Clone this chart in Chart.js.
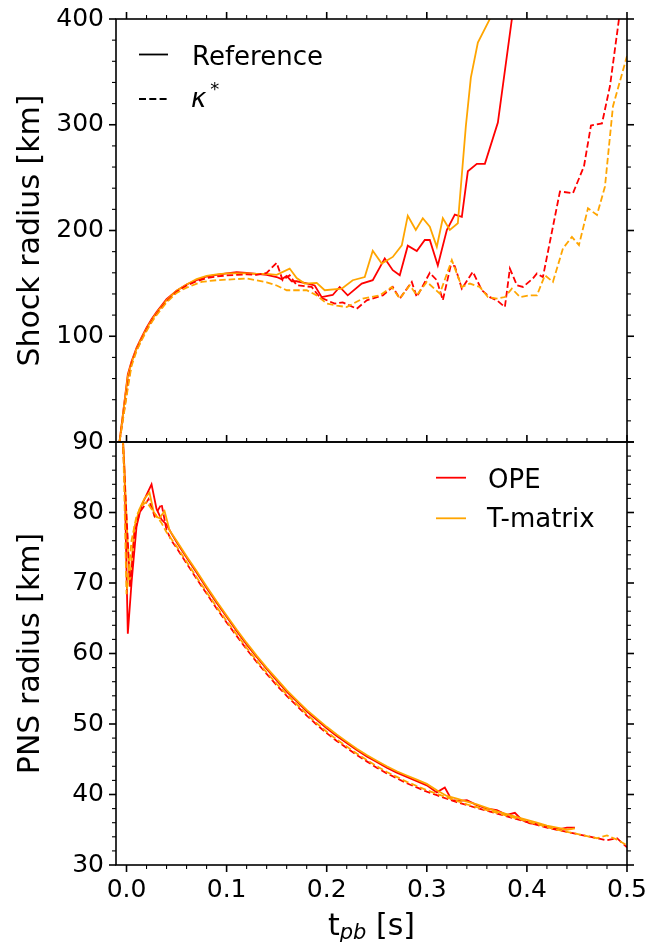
<!DOCTYPE html>
<html>
<head>
<meta charset="utf-8">
<script src="https://cdn.jsdelivr.net/npm/chart.js@4.4.0/dist/chart.umd.min.js"></script>
<style>
  body { margin: 0; background: #fff; }
  #wrap { position: relative; width: 661px; height: 942px; overflow: hidden; font-family: "DejaVu Sans", sans-serif; }
  canvas { position: absolute; left: 0; }
  #top { top: -8px; }
  #bot { top: 415px; }
  #xtitle { position: absolute; left: 116px; width: 511px; top: 910px; text-align: center;
            font-size: 30px; line-height: 30px; color: #000; }
  #xtitle sub { font-size: 21px; font-style: italic; vertical-align: -4px; line-height: 0; }
</style>
</head>
<body>
<div id="wrap">
  <canvas id="top" width="661" height="477"></canvas>
  <canvas id="bot" width="661" height="527"></canvas>
  <div id="xtitle">t<sub>pb</sub> [s]</div>
</div>
<script>
// --- оси ---
const xTicks = [0, 0.1, 0.2, 0.3, 0.4, 0.5];
const shockTicks = [100, 200, 300, 400];
const pnsTicks = [30, 40, 50, 60, 70, 80, 90];

// --- Shock radius, Reference OPE ---
const tShockRefOpe = [-0.007, 0.0013, 0.005, 0.01, 0.015, 0.02, 0.025, 0.03, 0.04, 0.05, 0.06, 0.07, 0.08, 0.09, 0.1, 0.11, 0.12, 0.13, 0.14, 0.15, 0.155, 0.16, 0.165, 0.17, 0.18, 0.188, 0.195, 0.206, 0.213, 0.221, 0.235, 0.246, 0.258, 0.266, 0.273, 0.281, 0.29, 0.298, 0.303, 0.311, 0.32, 0.328, 0.335, 0.341, 0.35, 0.358, 0.371, 0.385, 0.39];
const shockRefOpe = [0, 64, 76, 89, 99, 108, 116, 123, 135, 143, 149, 153, 156.5, 158, 159.5, 160.5, 160, 159, 158, 156, 154, 157, 152, 152, 150, 148, 137, 139, 146.6, 138.7, 149.8, 153, 173.6, 162.5, 157.7, 185.6, 180.5, 191, 191, 167, 200.5, 215, 213, 256, 263, 263, 302, 400, 440];

// --- Shock radius, Reference T-matrix ---
const tShockRefTm = [-0.007, 0.0013, 0.005, 0.01, 0.015, 0.02, 0.025, 0.03, 0.04, 0.05, 0.06, 0.07, 0.08, 0.09, 0.1, 0.11, 0.12, 0.13, 0.14, 0.15, 0.163, 0.17, 0.178, 0.19, 0.198, 0.215, 0.226, 0.238, 0.246, 0.255, 0.266, 0.275, 0.281, 0.289, 0.296, 0.303, 0.31, 0.316, 0.323, 0.331, 0.339, 0.344, 0.351, 0.363, 0.37];
const shockRefTm = [0, 62, 75, 88, 98, 107, 115, 122, 134, 143, 149, 154, 157, 158.5, 159.5, 159.5, 159.5, 159, 159, 158, 164, 155, 149.8, 150.4, 143.5, 145, 153, 156, 180.8, 168.8, 175, 186, 214, 200.5, 211.6, 203.6, 184.6, 211.6, 200.5, 206.8, 298.6, 344.6, 377.8, 400, 420];

// --- Shock radius, kappa* OPE ---
const tShockKapOpe = [-0.007, 0.002, 0.005, 0.01, 0.015, 0.02, 0.025, 0.03, 0.04, 0.05, 0.06, 0.07, 0.08, 0.09, 0.1, 0.11, 0.12, 0.13, 0.14, 0.15, 0.156, 0.163, 0.17, 0.185, 0.193, 0.208, 0.216, 0.23, 0.24, 0.256, 0.266, 0.273, 0.285, 0.29, 0.303, 0.31, 0.316, 0.324, 0.328, 0.335, 0.346, 0.355, 0.363, 0.37, 0.378, 0.383, 0.39, 0.396, 0.406, 0.41, 0.416, 0.433, 0.446, 0.457, 0.464, 0.475, 0.483, 0.492, 0.497];
const shockKapOpe = [0, 58, 74, 87, 97, 106, 114, 121, 133, 142, 148, 152, 155, 156.5, 157.5, 158, 158.5, 158, 160, 169.4, 153, 157.7, 148.2, 146.6, 137, 130.8, 132, 126, 134, 138.7, 146.6, 135.6, 151.4, 137.1, 160, 153, 134, 167.2, 166.3, 145, 160.9, 143.5, 137, 134, 127.6, 164, 148.2, 146.6, 154.6, 159.3, 156, 236.9, 235.3, 260.6, 299.3, 301.2, 336.6, 400, 440];

// --- Shock radius, kappa* T-matrix ---
const tShockKapTm = [-0.007, 0.002, 0.005, 0.01, 0.015, 0.02, 0.025, 0.03, 0.04, 0.05, 0.06, 0.075, 0.09, 0.1, 0.12, 0.14, 0.15, 0.16, 0.18, 0.19, 0.2, 0.21, 0.22, 0.236, 0.253, 0.265, 0.273, 0.283, 0.29, 0.3, 0.313, 0.325, 0.335, 0.343, 0.353, 0.361, 0.37, 0.378, 0.385, 0.393, 0.403, 0.41, 0.418, 0.426, 0.436, 0.445, 0.452, 0.461, 0.47, 0.478, 0.486, 0.5];
const shockKapTm = [0, 55, 72, 86, 96, 105, 113, 120, 132, 141, 146, 151.4, 153, 153.5, 154.6, 151, 148, 143.5, 143.5, 138.7, 131, 129, 127.6, 135.6, 138.7, 146.6, 135.6, 148.2, 138.7, 151.4, 140.3, 172, 146.6, 149.8, 146.6, 137.1, 135.6, 137.1, 145, 137.1, 138.7, 138.7, 157.7, 151.4, 183, 194, 186.2, 221, 214.7, 241.6, 317.6, 365];

// --- PNS radius, Reference OPE ---
const tPnsRefOpe = [-0.007, -0.002, 0.0013, 0.005, 0.01, 0.015, 0.02, 0.025, 0.03, 0.035, 0.04, 0.045, 0.05, 0.06, 0.07, 0.08, 0.09, 0.1, 0.11, 0.12, 0.13, 0.14, 0.15, 0.16, 0.17, 0.18, 0.19, 0.2, 0.21, 0.22, 0.23, 0.24, 0.25, 0.26, 0.27, 0.28, 0.29, 0.3, 0.31, 0.318, 0.325, 0.333, 0.34, 0.35, 0.36, 0.37, 0.38, 0.388, 0.395, 0.403, 0.41, 0.418, 0.425, 0.433, 0.44, 0.448];
const pnsRefOpe = [100, 86, 62.8, 70, 78, 81, 82.5, 84, 80.5, 79, 78.3, 77, 75.8, 73.6, 71.5, 69.3, 67.2, 65.2, 63.2, 61.3, 59.5, 57.8, 56.2, 54.6, 53.2, 51.8, 50.6, 49.4, 48.3, 47.3, 46.3, 45.4, 44.6, 43.8, 43.1, 42.5, 41.9, 41.3, 40.3, 41.0, 39.2, 39.1, 39.2, 38.5, 38.0, 37.8, 37.1, 37.4, 36.4, 35.9, 35.8, 35.6, 35.2, 35.1, 35.3, 35.3];

// --- PNS radius, Reference T-matrix ---
const tPnsRefTm = [-0.007, -0.002, 0.003, 0.008, 0.013, 0.018, 0.023, 0.028, 0.033, 0.038, 0.043, 0.05, 0.06, 0.07, 0.08, 0.09, 0.1, 0.11, 0.12, 0.13, 0.14, 0.15, 0.16, 0.17, 0.18, 0.19, 0.2, 0.21, 0.22, 0.23, 0.24, 0.25, 0.26, 0.27, 0.28, 0.29, 0.3, 0.31, 0.32, 0.33, 0.34, 0.35, 0.36, 0.37, 0.38, 0.39, 0.4, 0.41, 0.42, 0.43, 0.44, 0.448];
const pnsRefTm = [100, 86, 69.5, 78, 80.5, 82, 82.8, 79.5, 79.2, 80.2, 77.5, 76, 73.8, 71.7, 69.5, 67.4, 65.4, 63.4, 61.5, 59.7, 58.0, 56.4, 54.8, 53.4, 52.0, 50.8, 49.6, 48.5, 47.5, 46.5, 45.6, 44.8, 44.0, 43.3, 42.7, 42.1, 41.5, 40.6, 39.8, 39.4, 39.0, 38.6, 38.1, 37.6, 37.2, 36.8, 36.4, 36.0, 35.6, 35.3, 35.0, 35.2];

// --- PNS radius, kappa* OPE ---
const tPnsKapOpe = [-0.007, -0.002, 0.0037, 0.008, 0.013, 0.018, 0.022, 0.028, 0.035, 0.04, 0.045, 0.05, 0.06, 0.07, 0.08, 0.09, 0.1, 0.11, 0.12, 0.13, 0.14, 0.15, 0.16, 0.17, 0.18, 0.19, 0.2, 0.21, 0.22, 0.23, 0.24, 0.25, 0.26, 0.27, 0.28, 0.29, 0.3, 0.31, 0.32, 0.33, 0.34, 0.35, 0.36, 0.37, 0.38, 0.39, 0.4, 0.41, 0.42, 0.43, 0.44, 0.45, 0.46, 0.47, 0.48, 0.49, 0.5];
const pnsKapOpe = [100, 85, 69.3, 77, 80, 81, 81.9, 79.5, 81.2, 77.5, 76, 75, 72.8, 70.6, 68.5, 66.4, 64.4, 62.5, 60.6, 58.8, 57.1, 55.5, 54.0, 52.6, 51.2, 49.9, 48.7, 47.6, 46.6, 45.6, 44.7, 43.8, 43.0, 42.3, 41.6, 41.0, 40.4, 39.9, 39.4, 38.9, 38.5, 38.1, 37.7, 37.3, 36.9, 36.5, 36.1, 35.7, 35.3, 35.0, 34.7, 34.4, 34.1, 33.8, 33.5, 33.8, 32.5];

// --- PNS radius, kappa* T-matrix ---
const tPnsKapTm = [-0.007, -0.003, 0.0, 0.005, 0.01, 0.015, 0.02, 0.025, 0.03, 0.035, 0.04, 0.05, 0.06, 0.07, 0.08, 0.09, 0.1, 0.11, 0.12, 0.13, 0.14, 0.15, 0.16, 0.17, 0.18, 0.19, 0.2, 0.21, 0.22, 0.23, 0.24, 0.25, 0.26, 0.27, 0.28, 0.29, 0.3, 0.31, 0.32, 0.33, 0.34, 0.35, 0.36, 0.37, 0.38, 0.39, 0.4, 0.41, 0.42, 0.43, 0.44, 0.45, 0.46, 0.47, 0.48, 0.49, 0.5];
const pnsKapTm = [100, 88, 68.4, 76, 79.5, 81, 81.5, 80.5, 79.5, 78.5, 77.2, 75.2, 73.0, 70.8, 68.7, 66.6, 64.6, 62.7, 60.8, 59.0, 57.3, 55.7, 54.2, 52.8, 51.4, 50.1, 48.9, 47.8, 46.8, 45.8, 44.9, 44.0, 43.2, 42.5, 41.8, 41.2, 40.6, 40.1, 39.6, 39.1, 38.6, 38.2, 37.8, 37.4, 37.0, 36.6, 36.2, 35.8, 35.4, 35.0, 34.7, 34.4, 34.1, 33.8, 34.2, 33.6, 32.8];

const RED = '#ff0000';
const ORANGE = '#ffa500';
const DASH = [6.5, 3];
const LW = 1.8;
const FONT = "'DejaVu Sans'";

function ds(t, v, color, dash, order) {
  return {
    data: t.map((x, i) => ({ x: x, y: v[i] })),
    borderColor: color,
    borderWidth: LW,
    borderDash: dash,
    pointRadius: 0,
    fill: false,
    tension: 0,
    order: order
  };
}

// рамка и тики со всех сторон
const framePlugin = {
  id: 'frame',
  afterDraw(chart, args, o) {
    const { ctx, chartArea: a, scales } = chart;
    const xs = scales.x, ys = scales.y;
    ctx.save();
    ctx.strokeStyle = '#000';
    const line = (x1, y1, x2, y2, w) => {
      ctx.lineWidth = w;
      ctx.beginPath();
      ctx.moveTo(x1, y1);
      ctx.lineTo(x2, y2);
      ctx.stroke();
    };
    const xVals = [], yVals = [];
    for (let v = 0; v <= 0.5001; v += 0.02) xVals.push(Math.round(v * 100) / 100);
    for (let v = o.yMin; v <= o.yMax + 1e-9; v += o.yMinor) yVals.push(v);
    xVals.forEach(v => {
      const major = Math.abs(v * 10 - Math.round(v * 10)) < 1e-6;
      const len = major ? 7 : 4, w = major ? 1.6 : 1.1;
      const p = xs.getPixelForValue(v);
      if (o.sides.includes('t')) line(p, a.top, p, a.top - len, w);
      if (o.sides.includes('b')) line(p, a.bottom, p, a.bottom + len, w);
    });
    yVals.forEach(v => {
      const major = Math.abs(v % o.yMajor) < 1e-6;
      const len = major ? 7 : 4, w = major ? 1.6 : 1.1;
      const p = ys.getPixelForValue(v);
      line(a.left, p, a.left - len, p, w);
      line(a.right, p, a.right + len, p, w);
    });
    ctx.lineWidth = 1.6;
    ctx.strokeRect(a.left, a.top, a.right - a.left, a.bottom - a.top);
    ctx.restore();
  }
};

// легенда внутри графика (координаты страницы, сдвиг канваса в dy)
const keyPlugin = {
  id: 'key',
  afterDraw(chart, args, o) {
    if (!o.items) return;
    const ctx = chart.ctx;
    const dy = o.dy || 0;
    ctx.save();
    o.items.forEach(it => {
      ctx.strokeStyle = it.color;
      ctx.lineWidth = LW;
      ctx.setLineDash(it.dash);
      ctx.beginPath();
      ctx.moveTo(it.x0, it.y - dy);
      ctx.lineTo(it.x1, it.y - dy);
      ctx.stroke();
      ctx.setLineDash([]);
      ctx.fillStyle = '#000';
      ctx.textBaseline = 'alphabetic';
      ctx.font = (it.italic ? 'italic ' : '') + '26px ' + FONT;
      ctx.fillText(it.text, it.tx, it.ty - dy);
      if (it.sup) {
        const w = ctx.measureText(it.text).width;
        ctx.font = '18px ' + FONT;
        ctx.fillText(it.sup, it.tx + w + 4, it.ty - dy - 12);
      }
    });
    ctx.restore();
  }
};

function yScale(min, max, ticks, title) {
  return {
    type: 'linear',
    min: min,
    max: max,
    afterBuildTicks: s => { s.ticks = ticks.map(v => ({ value: v })); },
    afterFit: s => { s.width = 116; },
    grid: { display: false, drawTicks: false },
    border: { display: false },
    ticks: {
      padding: 12,
      color: '#000',
      font: { family: FONT, size: 25 },
      callback: v => String(v)
    },
    title: {
      display: true,
      text: title,
      color: '#000',
      font: { family: FONT, size: 30 },
      padding: { top: 13, bottom: 0 }
    }
  };
}

const topChart = new Chart(document.getElementById('top'), {
  type: 'line',
  data: {
    datasets: [
      ds(tShockRefOpe, shockRefOpe, RED, [], 4),
      ds(tShockRefTm, shockRefTm, ORANGE, [], 3),
      ds(tShockKapOpe, shockKapOpe, RED, DASH, 2),
      ds(tShockKapTm, shockKapTm, ORANGE, DASH, 1)
    ]
  },
  options: {
    responsive: false,
    animation: false,
    devicePixelRatio: 1,
    layout: { padding: { left: 0, right: 34, top: 27, bottom: 27 } },
    plugins: {
      legend: { display: false },
      tooltip: { enabled: false },
      frame: { sides: 't', yMin: 0, yMax: 400, yMinor: 20, yMajor: 100 },
      key: {
        dy: -8,
        items: [
          { text: 'Reference', color: '#000', dash: [], x0: 139, x1: 168, y: 54.5, tx: 192, ty: 65 },
          { text: 'κ', sup: '*', italic: true, color: '#000', dash: [7, 3.3], x0: 139, x1: 168, y: 99, tx: 191, ty: 107 }
        ]
      }
    },
    scales: {
      x: { type: 'linear', min: -0.0105, max: 0.5, display: false },
      y: yScale(0, 400, shockTicks, 'Shock radius [km]')
    }
  },
  plugins: [framePlugin, keyPlugin]
});

const botChart = new Chart(document.getElementById('bot'), {
  type: 'line',
  data: {
    datasets: [
      ds(tPnsRefOpe, pnsRefOpe, RED, [], 4),
      ds(tPnsRefTm, pnsRefTm, ORANGE, [], 3),
      ds(tPnsKapOpe, pnsKapOpe, RED, DASH, 2),
      ds(tPnsKapTm, pnsKapTm, ORANGE, DASH, 1)
    ]
  },
  options: {
    responsive: false,
    animation: false,
    devicePixelRatio: 1,
    layout: { padding: { left: 0, right: 34, top: 27, bottom: 0 } },
    plugins: {
      legend: { display: false },
      tooltip: { enabled: false },
      frame: { sides: 'tb', yMin: 30, yMax: 90, yMinor: 2, yMajor: 10 },
      key: {
        dy: 415,
        items: [
          { text: 'OPE', color: RED, dash: [], x0: 436, x1: 466, y: 477.7, tx: 488, ty: 488.3 },
          { text: 'T-matrix', color: ORANGE, dash: [], x0: 436, x1: 466, y: 518.3, tx: 487, ty: 527 }
        ]
      }
    },
    scales: {
      x: {
        type: 'linear',
        min: -0.0105,
        max: 0.5,
        afterBuildTicks: s => { s.ticks = xTicks.map(v => ({ value: v })); },
        afterFit: s => { s.height = 77; },
        grid: { display: false, drawTicks: false },
        border: { display: false },
        ticks: {
          padding: 10,
          color: '#000',
          maxRotation: 0,
          font: { family: FONT, size: 25 },
          callback: v => v.toFixed(1)
        }
      },
      y: yScale(30, 90, pnsTicks, 'PNS radius [km]')
    }
  },
  plugins: [framePlugin, keyPlugin]
});
</script>
</body>
</html>
